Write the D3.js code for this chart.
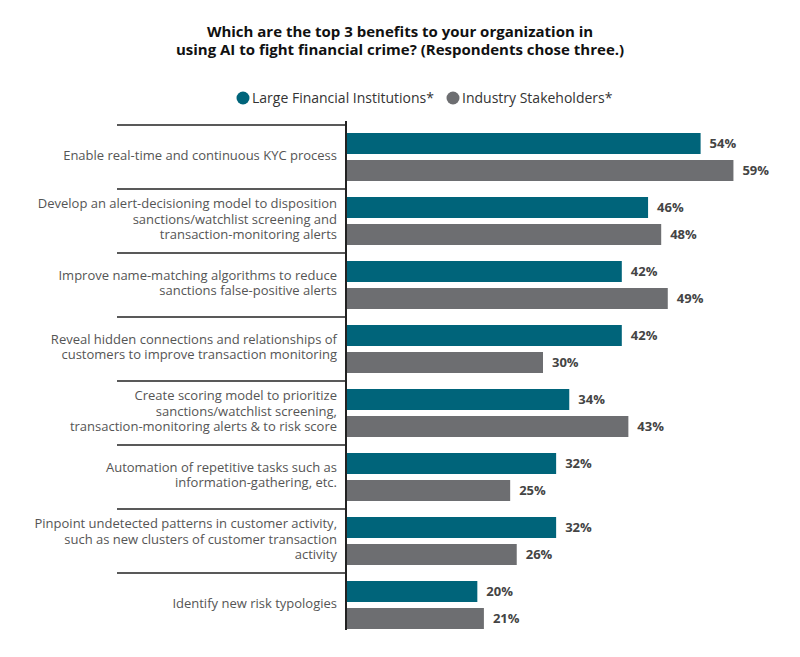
<!DOCTYPE html>
<html><head><meta charset="utf-8">
<script src="https://cdn.jsdelivr.net/npm/d3@7"></script>
<style>body{margin:0;background:#fff;}svg{display:block;font-family:"Open Sans",sans-serif;}</style>
</head><body>
<svg id="c" width="800" height="657"></svg>
<script>
const categories = [
  ["Enable real-time and continuous KYC process"],
  ["Develop an alert-decisioning model to disposition","sanctions/watchlist screening and","transaction-monitoring alerts"],
  ["Improve name-matching algorithms to reduce","sanctions false-positive alerts"],
  ["Reveal hidden connections and relationships of","customers to improve transaction monitoring"],
  ["Create scoring model to prioritize","sanctions/watchlist screening,","transaction-monitoring alerts & to risk score"],
  ["Automation of repetitive tasks such as","information-gathering, etc."],
  ["Pinpoint undetected patterns in customer activity,","such as new clusters of customer transaction","activity"],
  ["Identify new risk typologies"]
];
const seriesNames = ["Large Financial Institutions*", "Industry Stakeholders*"];
const largeFI = [54, 46, 42, 42, 34, 32, 32, 20];
const stakeholders = [59, 48, 49, 30, 43, 25, 26, 21];
const colors = ["#00647a", "#6d6e71"];
const titleLines = ["Which are the top 3 benefits to your organization in","using AI to fight financial crime? (Respondents chose three.)"];

const svg = d3.select("#c");
const idx = d3.range(categories.length);
const y = d3.scaleBand().domain(idx).range([125, 125 + 64*8]).paddingInner(0).paddingOuter(0);
const ySub = d3.scaleBand().domain([0,1]).range([8, 56]).paddingInner(6/27).paddingOuter(0);
const x = d3.scaleLinear().domain([0, 60]).range([346, 740]);

// title
svg.append("text").attr("x", 400).attr("y", 37).attr("text-anchor","middle")
  .style("font-weight","700").style("font-size","15px").attr("fill","#111")
  .selectAll("tspan").data(titleLines).join("tspan")
  .attr("x",400).attr("dy",(d,i)=>i?18:0).text(d=>d);

// legend
const legX = [243, 453];
seriesNames.forEach((n,i)=>{
  svg.append("circle").attr("cx",legX[i]).attr("cy",98).attr("r",6.5).attr("fill",colors[i]);
  svg.append("text").attr("x",legX[i]+9).attr("y",103).style("font-size","14px").attr("fill","#333").text(n);
});

// separators
svg.selectAll("line.sep").data(idx).join("line").attr("class","sep")
  .attr("x1",117).attr("x2",346).attr("y1",d=>y(d)).attr("y2",d=>y(d))
  .attr("stroke","#222").attr("stroke-width",1.5);

// bars
const data = [];
idx.forEach(i=>{ data.push({i, s:0, v:largeFI[i]}); data.push({i, s:1, v:stakeholders[i]}); });
svg.selectAll("rect.bar").data(data).join("rect").attr("class","bar")
  .attr("x", x(0)).attr("y", d=>y(d.i)+ySub(d.s)).attr("height", ySub.bandwidth())
  .attr("width", d=>x(d.v)-x(0)).attr("fill", d=>colors[d.s]);

svg.selectAll("text.val").data(data).join("text").attr("class","val")
  .attr("x", d=>x(d.v)+9).attr("y", d=>y(d.i)+ySub(d.s)+ySub.bandwidth()/2)
  .attr("dy","0.35em").style("font-size","13px").style("font-weight","700").attr("fill","#444")
  .text(d=>d.v+"%");

// axis line
svg.append("line").attr("x1",346).attr("x2",346).attr("y1",121).attr("y2",630)
  .attr("stroke","#222").attr("stroke-width",2);

// category labels
const lh = 15.6;
idx.forEach(i=>{
  const lines = categories[i];
  const cy = y(i) + y.bandwidth()/2 - 2;
  const t = svg.append("text").attr("text-anchor","end").style("font-size","13px").attr("fill","#555");
  lines.forEach((l,k)=>{
    t.append("tspan").attr("x",337).attr("y", cy + (k - (lines.length-1)/2)*lh).attr("dy","0.35em").text(l);
  });
});
</script>
</body></html>
